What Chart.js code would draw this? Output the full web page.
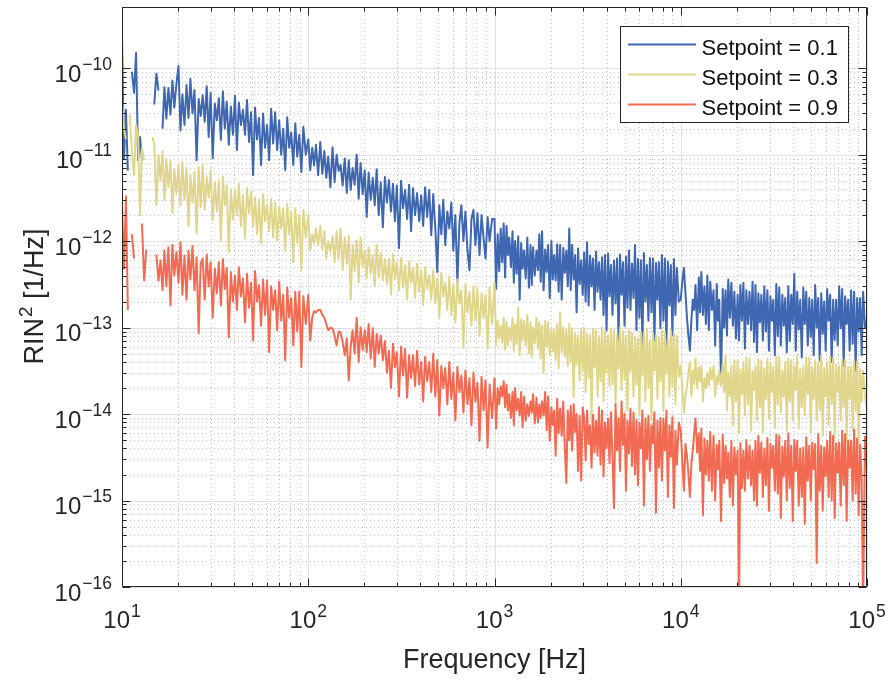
<!DOCTYPE html>
<html>
<head>
<meta charset="utf-8">
<script src="https://cdn.jsdelivr.net/npm/chart.js@4.4.1/dist/chart.umd.min.js"></script>
<style>
  body { margin: 0; background: #fff; }
  #wrap { width: 889px; height: 680px; }
</style>
</head>
<body>
<div id="wrap"><canvas id="myChart"></canvas></div>
<script>
// frequency axis [Hz]
const freq = [
  10,10.25,10.5,10.75,11,11.3,11.6,11.9,12.2,12.5,12.8,13.15,13.5,13.85,14.2,14.55,14.9,15.3,15.7,16.1,16.5,16.9,17.3,17.75,18.2,18.65,19.1,19.6,20.1,20.6,21.1,21.65,22.2,22.75,23.3,23.9,24.5,25.15,25.8,26.45,27.1,27.8,28.5,29.2,29.9,30.7,31.5,32.3,33.1,33.95,34.8,35.65,36.5,37.45,38.4,39.4,40.4,41.4,42.4,43.5,44.6,45.75,46.9,48.1,49.3,50.55,51.8,53.1,54.4,55.8,57.2,58.65,60.1,61.65,63.2,64.8,66.4,68.1,69.8,71.6,73.4,75.2,77.1,79,81,83.1,85.2,87.3,89.5,91.8,94.1,97,
  100,102.5,105,107.5,110,113,116,119,122,125,128,131.5,135,138.5,142,145.5,149,153,157,161,165,169,173,177.5,182,186.5,191,196,201,206,211,216.5,222,227.5,233,239,245,251.5,258,264.5,271,278,285,292,299,307,315,323,331,339.5,348,356.5,365,374.5,384,394,404,414,424,435,446,457.5,469,481,493,505.5,518,531,544,558,572,586.5,601,616.5,632,648,664,681,698,716,734,752,771,790,810,831,852,873,895,918,941,970,
  1000,1020,1040,1060,1080,1100,1120,1140,1160,1180,1200,1225,1250,1270,1290,1315,1340,1365,1390,1415,1440,1470,1500,1530,1560,1585,1610,1645,1680,1710,1740,1770,1800,1835,1870,1905,1940,1980,2020,2055,2090,2130,2170,2210,2250,2295,2340,2385,2430,2475,2520,2565,2610,2660,2710,2760,2810,2865,2920,2975,3030,3085,3140,3200,3260,3320,3380,3445,3510,3575,3640,3710,3780,3850,3920,3995,4070,4145,4220,4300,4380,4465,4550,4635,4720,4810,4900,4990,5080,5175,5270,5370,5470,5575,5680,5785,5890,6000,6110,6225,6340,6460,6580,6705,6830,6960,7090,7225,7360,7495,7630,7775,7920,8070,8220,8375,8530,8690,8850,9020,9190,9360,9530,9760,
  10000,10200,10400,10600,10800,11000,11200,11400,11600,11800,12000,12250,12500,12700,12900,13150,13400,13650,13900,14150,14400,14700,15000,15300,15600,15850,16100,16450,16800,17100,17400,17700,18000,18350,18700,19050,19400,19800,20200,20550,20900,21300,21700,22100,22500,22950,23400,23850,24300,24750,25200,25650,26100,26600,27100,27600,28100,28650,29200,29750,30300,30850,31400,32000,32600,33200,33800,34450,35100,35750,36400,37100,37800,38500,39200,39950,40700,41450,42200,43000,43800,44650,45500,46350,47200,48100,49000,49900,50800,51750,52700,53700,54700,55750,56800,57850,58900,60000,61100,62250,63400,64600,65800,67050,68300,69600,70900,72250,73600,74950,76300,77750,79200,80700,82200,83750,85300,86900,88500,90200,91900,93600,95300,97600,100000
];

// RIN^2 [1/Hz], setpoint 0.1
const rin01 = [
  2.3e-10,9e-12,3.3e-11,6.5e-12,null,9.1e-11,5.2e-11,1.5e-10,8.6e-12,1.6e-11,
  8.6e-12,null,null,null,null,null,3.8e-11,8.6e-11,5.5e-11,null,
  2.0e-11,6.0e-11,2.6e-11,5.9e-11,2.9e-11,7.2e-11,3.5e-11,6.6e-11,
  1.06e-10,1.9e-11,5.0e-11,2.2e-11, 6.4e-11,2.65e-11,7.5e-11,3.0e-11,
  5.6e-11,8.6e-12,4.4e-11,2.8e-11, 4.9e-11,2.4e-11,6.2e-11,1.6e-11,
  5.2e-11,9.1e-12,3.9e-11,2.5e-11, 4.5e-11,1.48e-11,5.4e-11,2.0e-11,
  4.1e-11,1.3e-11,3.6e-11,1.7e-11, 4.8e-11,1.13e-11,4.0e-11,2.2e-11,
  3.3e-11,1.7e-11,4.3e-11,1.4e-11, 3.1e-11,5.8e-12,3.5e-11,1.5e-11,
  2.65e-11,7.6e-12,3.0e-11,1.2e-11, 2.2e-11,8.6e-12,3.4e-11,1.35e-11,
  3.1e-11,1.13e-11,2.5e-11,1.0e-11, 2.0e-11,6.6e-12,2.7e-11,1.2e-11,
  1.8e-11,7.6e-12,2.3e-11,9.5e-12, 1.7e-11,6.3e-12,2.1e-11,1.0e-11,

  1.5e-11,6.6e-12,1.2e-11,7.5e-12, 1.3e-11,5.8e-12,1.4e-11,6.0e-12,
  1.1e-11,5.4e-12,9.5e-12,4.2e-12, 1.22e-11,4.8e-12,1.0e-11,6.5e-12,
  7.6e-12,4.4e-12,9.0e-12,3.6e-12, 8.6e-12,3.9e-12,7.0e-12,4.5e-12,
  1.0e-11,3.1e-12,8.0e-12,3.5e-12, 6.6e-12,1.9e-12,6.2e-12,3.0e-12,
  5.4e-12,2.6e-12,6.8e-12,2.0e-12, 4.8e-12,1.45e-12,5.5e-12,2.8e-12,
  5.1e-12,2.2e-12,4.6e-12,1.7e-12, 4.4e-12,8.3e-13,5.0e-12,2.4e-12,
  3.9e-12,1.8e-12,4.5e-12,1.3e-12, 4.1e-12,2.0e-12,3.6e-12,1.7e-12,
  3.4e-12,1.5e-12,4.2e-12,1.9e-12, 3.9e-12,1.17e-12,3.5e-12,1.4e-12,
  4.4e-13,2.6e-12,1.2e-12,3.0e-12,9.0e-13,2.2e-12,1.4e-12,2.8e-12,7.8e-13,2.0e-12,
  3.3e-13,1.6e-12,2.6e-12,1.0e-12,2.2e-12,7.8e-13,4.6e-13,1.8e-12,2.3e-12,9.0e-13,
  2.1e-12,6.9e-13,2.0e-12,1.1e-12,6.3e-13,1.9e-12,1.0e-12,1.8e-12,

  1.8e-12,2.8e-13,1.2e-12,4.5e-13, 1.4e-12,5.7e-13,1.6e-12,3.8e-13,
  1.5e-12,6.9e-13,1.1e-12,5.0e-13, 1.3e-12,3.3e-13,1.0e-12,4.2e-13,
  1.14e-12,2.1e-13,9.5e-13,4.8e-13, 7.8e-13,3.7e-13,1.1e-12,2.9e-13,
  9.0e-13,3.1e-13,8.5e-13,4.0e-13, 7.8e-13,4.6e-13,1.2e-12,3.4e-13,
  1.3e-12,2.7e-13,8.0e-13,4.4e-13, 9.0e-13,2.2e-13,1.0e-12,3.6e-13,
  6.9e-13,3.5e-13,9.2e-13,2.6e-13, 9.0e-13,2.1e-13,8.4e-13,4.3e-13,
  7.8e-13,3.0e-13,
  1.4e-12,2.7e-13,9.0e-13,3.6e-13, 6.9e-13,1.5e-13,8.2e-13,3.2e-13,
  6.0e-13,2.4e-13,7.4e-13,2.0e-13, 9.7e-13,1.8e-13,6.8e-13,3.0e-13,
  6.3e-13,1.6e-13,7.6e-13,2.6e-13, 5.7e-13,2.1e-13,6.5e-13,1.4e-13,
  6.9e-13,9.3e-14,7.2e-13,2.3e-13, 5.3e-13,1.4e-13,6.0e-13,1.9e-13,
  6.3e-13,7.1e-14,7.0e-13,2.4e-13, 5.7e-13,1.05e-13,6.6e-13,1.7e-13,
  7.8e-13,1.6e-13,5.5e-13,2.2e-13, 9.0e-13,9.3e-14,6.2e-13,1.3e-13,
  6.0e-13,6.2e-14,7.3e-13,2.0e-13, 5.3e-13,1.2e-13,6.4e-13,1.5e-13,
  6.3e-13,7.1e-14,5.6e-13,2.1e-13, 5.7e-13,9.8e-14,6.9e-13,1.2e-13,
  6.3e-13,6.2e-14,5.8e-13,1.8e-13, 5.3e-13,8.1e-14,6.2e-13,1.4e-13,
  4.9e-13,2.0e-13,

  2.1e-13,3.5e-13,4.9e-13,2.5e-13,1.3e-13,8.0e-14,5.4e-14,1.2e-13,2.1e-13,1.6e-13,
  3.1e-13,9.3e-14,3.8e-13,1.5e-13, 4.4e-13,1.4e-13,3.0e-13,1.1e-13,
  4.0e-13,9.3e-14,3.4e-13,1.6e-13, 2.7e-13,6.2e-14,3.2e-13,1.2e-13,
  2.1e-13,2.45e-14,2.8e-13,1.0e-13, 2.7e-13,8.1e-14,3.6e-13,1.3e-13,
  3.3e-13,1.05e-13,2.6e-13,7.5e-14, 2.4e-13,7.1e-14,3.1e-13,1.2e-13,
  3.3e-13,5.7e-14,2.7e-13,1.1e-13, 2.6e-13,9.3e-14,3.4e-13,6.8e-14,
  3.1e-13,5.2e-14,2.5e-13,1.15e-13, 2.4e-13,7.1e-14,3.0e-13,9.0e-14,
  2.7e-13,5.4e-14,2.3e-13,1.2e-13, 2.1e-13,4.8e-14,3.2e-13,8.0e-14,
  2.9e-13,6.2e-14,2.4e-13,1.05e-13, 2.2e-13,5.2e-14,3.0e-13,7.0e-14,
  2.4e-13,1.1e-13,
  4.2e-13,5.4e-14,2.6e-13,9.5e-14, 2.1e-13,4.5e-14,2.9e-13,1.1e-13,
  2.6e-13,6.2e-14,2.2e-13,7.8e-14, 2.1e-13,4.8e-14,3.1e-13,1.0e-13,
  2.2e-13,4.2e-14,2.5e-13,8.5e-14, 2.0e-13,5.4e-14,2.8e-13,1.2e-13,
  2.4e-13,4.0e-14,2.1e-13,7.2e-14, 2.1e-13,6.2e-14,3.0e-13,9.8e-14,
  2.8e-13,3.6e-14,2.3e-13,1.1e-13, 2.1e-13,5.4e-14,2.7e-13,6.5e-14,
  2.6e-13,3.2e-14,2.2e-13,9.0e-14, 2.2e-13,4.8e-14,2.6e-13,1.0e-13,
  1.2e-13
];

// RIN^2 [1/Hz], setpoint 0.3
const rin03 = [
  4.3e-11,2.0e-11,1.5e-11,null,2.9e-11,1.1e-11,5.8e-12,2.2e-11,1.7e-11,2.0e-12,
  1.2e-11,8.6e-12,null,null,null,1.6e-11,
  1.3e-11,2.6e-12,1.0e-11,5.0e-12, 1.1e-11,3.0e-12,9.0e-12,4.2e-12,
  8.6e-12,2.1e-12,6.8e-12,3.5e-12, 7.6e-12,2.6e-12,8.2e-12,3.0e-12,
  7.0e-12,1.5e-12,5.8e-12,2.8e-12, 6.3e-12,1.24e-12,7.2e-12,2.5e-12,
  7.6e-12,2.3e-12,5.5e-12,3.2e-12, 6.6e-12,1.75e-12,4.8e-12,2.2e-12,
  5.1e-12,1.02e-12,5.6e-12,2.6e-12, 4.4e-12,7.4e-13,4.0e-12,1.8e-12,
  3.9e-12,2.0e-12,4.6e-12,1.5e-12, 3.4e-12,1.08e-12,4.1e-12,2.1e-12,
  3.7e-12,1.5e-12,3.2e-12,1.2e-12, 3.0e-12,9.4e-13,3.5e-12,1.7e-12,
  2.6e-12,1.3e-12,3.1e-12,1.1e-12, 2.8e-12,1.02e-12,2.5e-12,1.4e-12,
  2.4e-12,7.8e-13,2.7e-12,1.2e-12, 2.2e-12,5.7e-13,2.4e-12,9.5e-13,
  2.0e-12,4.6e-13,2.3e-12,1.1e-12,

  2.0e-12,7.8e-13,1.2e-12,9.5e-13, 1.4e-12,9.0e-13,1.5e-12,8.0e-13,
  1.3e-12,6.3e-13,1.0e-12,7.5e-13, 1.14e-12,5.7e-13,1.3e-12,6.0e-13,
  1.4e-12,4.6e-13,1.1e-12,5.5e-13, 1.14e-12,2.1e-13,9.0e-13,4.5e-13,
  1.02e-12,3.3e-13,1.1e-12,5.0e-13, 7.8e-13,3.7e-13,8.5e-13,4.2e-13,
  6.9e-13,3.0e-13,9.0e-13,3.8e-13, 7.4e-13,3.5e-13,6.2e-13,3.2e-13,
  6.3e-13,2.4e-13,7.0e-13,3.6e-13, 5.7e-13,2.7e-13,6.4e-13,2.9e-13,
  5.3e-13,2.1e-13,5.8e-13,3.3e-13, 4.9e-13,2.2e-13,5.5e-13,2.6e-13,
  4.6e-13,1.8e-13,5.0e-13,2.8e-13, 4.0e-13,2.1e-13,4.6e-13,1.9e-13,
  3.7e-13,1.3e-13,4.3e-13,2.3e-13, 3.3e-13,1.6e-13,3.9e-13,1.4e-13,
  3.1e-13,1.15e-13,3.6e-13,1.9e-13, 2.7e-13,5.9e-14,3.2e-13,1.5e-13,
  2.6e-13,1.05e-13,3.0e-13,1.2e-13, 2.8e-13,8.1e-14,2.5e-13,1.3e-13,
  2.4e-13,5.7e-14,2.9e-13,1.1e-13,

  3.3e-13,6.2e-14,1.2e-13,7.5e-14, 1.05e-13,6.7e-14,1.3e-13,5.5e-14,
  1.15e-13,6.2e-14,1.0e-13,7.0e-14, 1.3e-13,5.4e-14,1.1e-13,6.5e-14,
  1.7e-13,4.8e-14,1.25e-13,7.2e-14, 1.2e-13,6.2e-14,1.4e-13,5.0e-14,
  1.15e-13,4.5e-14,1.0e-13,6.6e-14, 1.3e-13,5.7e-14,1.15e-13,4.4e-14,
  1.05e-13,3.0e-14,1.2e-13,6.0e-14, 1.15e-13,4.8e-14,9.5e-14,5.3e-14,
  9.3e-14,4.2e-14,1.1e-13,3.4e-14, 1.5e-13,5.2e-14,1.0e-13,4.6e-14,
  9.3e-14,3.6e-14,1.1e-13,4.0e-14, 9.8e-14,1.55e-14,8.6e-14,3.8e-14,
  8.1e-14,2.45e-14,9.5e-14,3.2e-14, 9.8e-14,1.8e-14,8.4e-14,2.6e-14,
  8.1e-14,8.0e-15,9.6e-14,3.5e-14, 9.3e-14,1.6e-14,8.0e-14,2.4e-14,
  1.0e-13,1.4e-14,9.0e-14,3.0e-14, 8.1e-14,2.1e-14,9.8e-14,2.2e-14,
  9.3e-14,1.3e-14,8.2e-14,3.3e-14, 1.0e-13,1.9e-14,9.1e-14,2.5e-14,
  8.1e-14,1.1e-14,9.4e-14,3.1e-14, 8.8e-14,1.6e-14,7.8e-14,2.2e-14,
  7.5e-14,9.6e-15,8.9e-14,2.8e-14, 8.6e-14,1.4e-14,9.6e-14,2.0e-14,
  7.1e-14,8.4e-15,8.5e-14,3.2e-14, 8.1e-14,1.5e-14,7.6e-14,2.4e-14,
  9.3e-14,1.1e-14,8.8e-14,2.9e-14, 7.5e-14,1.6e-14,9.2e-14,2.1e-14,
  8.8e-14,1.3e-14,8.0e-14,2.7e-14,

  3.6e-14,2.0e-14,1.04e-14,1.6e-14,2.1e-14,3.0e-14,
  4.0e-14,1.6e-14,3.2e-14,2.2e-14, 4.4e-14,2.0e-14,3.5e-14,2.4e-14,
  3.6e-14,1.4e-14,2.6e-14,2.0e-14, 3.0e-14,2.1e-14,3.4e-14,2.5e-14,
  3.6e-14,1.6e-14,2.8e-14,2.2e-14, 3.2e-14,2.1e-14,3.8e-14,1.8e-14,
  4.8e-14,1.1e-14,3.0e-14,1.6e-14, 3.6e-14,7.4e-15,4.2e-14,1.4e-14,
  4.2e-14,6.1e-15,3.3e-14,1.7e-14, 4.0e-14,9.6e-15,4.5e-14,1.3e-14,
  4.4e-14,6.4e-15,3.1e-14,1.9e-14, 3.6e-14,8.4e-15,4.3e-14,1.2e-14,
  4.2e-14,6.1e-15,3.4e-14,1.5e-14, 4.4e-14,8.9e-15,3.9e-14,1.8e-14,
  3.5e-14,6.8e-15,4.6e-14,1.3e-14, 4.5e-14,1.04e-14,3.2e-14,1.6e-14,
  4.0e-14,6.4e-15,4.4e-14,1.4e-14, 4.2e-14,8.4e-15,3.6e-14,1.9e-14,
  4.8e-14,6.8e-15,3.3e-14,1.2e-14, 3.6e-14,9.6e-15,4.5e-14,1.7e-14,
  4.5e-14,6.1e-15,3.5e-14,1.5e-14, 4.2e-14,8.4e-15,4.0e-14,1.1e-14,
  4.8e-14,5.6e-15,3.4e-14,1.6e-14, 4.0e-14,7.4e-15,4.6e-14,1.3e-14,
  4.4e-14,5.2e-15,3.7e-14,1.8e-14, 3.6e-14,8.4e-15,4.3e-14,1.2e-14,
  4.2e-14,4.9e-15,3.5e-14,1.5e-14, 3.5e-14,6.4e-15,4.1e-14,1.1e-14,
  4.0e-14,4.3e-15,3.3e-14,1.4e-14,
  3.2e-14,1.6e-14,
  1.1e-14
];

// RIN^2 [1/Hz], setpoint 0.9
const rin09 = [
  2.6e-12,4.8e-13,3.3e-12,1.6e-13,null,1.2e-12,6.3e-13,null,null,null,
  1.6e-12,3.5e-13,8.0e-13,null,null,null,null,7.0e-13,3.5e-13,6.0e-13,
  2.7e-13,7.8e-13,3.0e-13,8.5e-13, 1.8e-13,9.0e-13,4.0e-13,7.5e-13,
  3.3e-13,9.7e-13,2.4e-13,6.8e-13, 2.1e-13,7.8e-13,3.6e-13,8.8e-13,
  2.7e-13,6.5e-13,8.6e-14,5.5e-13,
  6.3e-13,2.1e-13,7.0e-13,3.0e-13, 5.7e-13,1.3e-13,4.8e-13,2.5e-13,
  5.7e-13,1.8e-13,6.2e-13,2.8e-13, 4.9e-13,7.7e-14,4.4e-13,2.0e-13,
  4.0e-13,1.6e-13,5.0e-13,2.3e-13, 3.7e-13,1.15e-13,4.2e-13,1.7e-13,
  3.3e-13,7.1e-14,4.5e-13,2.0e-13, 3.1e-13,1.05e-13,3.6e-13,1.4e-13,
  3.5e-13,5.2e-14,3.0e-13,1.6e-13, 2.7e-13,9.3e-14,3.4e-13,1.2e-13,
  2.4e-13,4.2e-14,2.9e-13,1.3e-13, 2.2e-13,6.2e-14,2.6e-13,9.0e-14,
  2.6e-13,3.5e-14,2.3e-13,1.1e-13,

  2.4e-13,7.1e-14,1.3e-13,1.55e-13,1.5e-13,1.6e-13,1.6e-13,1.4e-13,1.3e-13,1.1e-13,
  9.3e-14,1.0e-13,9.8e-14,8.0e-14,6.2e-14,9.0e-14,8.8e-14,6.8e-14,4.8e-14,7.5e-14,
  2.45e-14,6.0e-14,9.3e-14,5.0e-14,
  1.3e-13,4.0e-14,1.0e-13,5.5e-14, 9.3e-14,5.2e-14,1.1e-13,4.4e-14,
  9.8e-14,3.5e-14,8.5e-14,5.0e-14, 8.1e-14,4.2e-14,7.0e-14,3.0e-14,
  5.4e-14,2.0e-14,6.5e-14,3.5e-14, 5.2e-14,1.6e-14,6.0e-14,2.8e-14,
  5.7e-14,1.55e-14,4.8e-14,2.6e-14, 4.8e-14,2.1e-14,5.4e-14,2.2e-14,
  4.0e-14,1.4e-14,4.6e-14,2.4e-14, 4.0e-14,1.8e-14,5.0e-14,1.6e-14,
  4.2e-14,9.6e-15,3.6e-14,2.0e-14, 3.4e-14,1.3e-14,4.0e-14,1.5e-14,
  3.0e-14,8.4e-15,3.5e-14,1.8e-14, 2.8e-14,1.04e-14,3.2e-14,1.3e-14,
  2.6e-14,7.4e-15,3.0e-14,1.4e-14, 2.3e-14,4.9e-15,2.7e-14,1.1e-14,
  2.45e-14,4.1e-15,2.2e-14,9.0e-15,

  2.6e-14,6.8e-15,2.0e-14,1.3e-14, 2.1e-14,1.6e-14,2.4e-14,1.2e-14,
  2.2e-14,1.1e-14,1.7e-14,9.0e-15, 1.8e-14,7.4e-15,2.0e-14,1.1e-14,
  1.5e-14,9.6e-15,1.8e-14,7.0e-15, 1.6e-14,8.4e-15,1.3e-14,9.5e-15,
  1.4e-14,1.04e-14,1.7e-14,7.8e-15, 1.55e-14,8.0e-15,1.3e-14,9.0e-15,
  1.4e-14,9.6e-15,1.8e-14,6.5e-15, 1.6e-14,4.9e-15,1.2e-14,7.5e-15,
  1.1e-14,3.3e-15,1.5e-14,6.0e-15, 1.16e-14,5.6e-15,1.4e-14,4.2e-15,
  1.6e-15,1.1e-14,5.0e-15,1.25e-14, 3.8e-15,1.3e-14,6.2e-15,1.0e-14,
  2.2e-15,9.5e-15,1.7e-15,1.2e-14,
  8.9e-15,2.9e-15,1.1e-14,4.5e-15, 7.4e-15,2.4e-15,9.8e-15,3.6e-15,
  8.4e-15,3.3e-15,1.2e-14,2.6e-15, 1.1e-14,1.9e-15,8.0e-15,4.0e-15,
  8.9e-15,2.7e-15,1.05e-14,3.2e-15,
  8.2e-16,1.3e-14,3.8e-15,9.0e-15,
  2.2e-15,1.4e-14,4.4e-15,1.0e-14, 1.3e-15,8.4e-15,3.5e-15,1.15e-14,
  2.5e-15,1.04e-14,2.0e-15,8.6e-15, 1.5e-15,8.0e-15,4.0e-15,1.1e-14,
  8.7e-16,8.9e-15,3.0e-15,9.5e-15, 2.2e-15,7.4e-15,4.6e-15,1.05e-14,
  7.2e-16,8.4e-15,2.4e-15,9.0e-15, 1.7e-15,8.9e-15,3.8e-15,1.1e-14,
  1.1e-15,7.4e-15,3.2e-15,9.2e-15, 8.2e-16,6.4e-15,2.6e-15,8.0e-15,

  6.4e-15,2.8e-15,1.3e-15,4.5e-15,3.3e-15,2.0e-15,1.1e-15,2.6e-15,3.8e-15,6.0e-15,
  8.9e-15,3.6e-15,6.0e-15,2.2e-15, 6.8e-15,6.7e-16,5.2e-15,2.0e-15,
  4.9e-15,1.7e-15,6.2e-15,1.3e-15, 5.6e-15,1.0e-15,4.4e-15,2.3e-15,
  4.9e-15,5.8e-16,5.8e-15,1.6e-15, 4.3e-15,1.8e-15,3.6e-15,1.1e-15,
  4.9e-15,8.7e-16,4.1e-15,2.0e-15, 3.8e-15,5e-17,4.6e-15,1.4e-15,
  3.8e-15,1.3e-15,5.0e-15,1.8e-15, 4.3e-15,1.5e-15,3.8e-15,1.0e-15,
  4.9e-15,8.7e-16,5.6e-15,2.1e-15, 4.7e-15,1.1e-15,4.0e-15,1.5e-15,
  5.3e-15,7.6e-16,4.5e-15,2.4e-15, 4.3e-15,1.3e-15,5.8e-15,1.2e-15,
  5.6e-15,6.3e-16,4.2e-15,1.9e-15, 4.9e-15,1.0e-15,6.0e-15,1.4e-15,
  4.3e-15,5.8e-16,5.0e-15,2.2e-15, 4.9e-15,8.7e-16,4.0e-15,1.1e-15,
  4.1e-15,5.4e-16,5.4e-15,1.7e-15, 4.3e-15,1.0e-15,4.7e-15,2.3e-15,
  4.5e-15,1.9e-16,5.9e-15,1.3e-15, 4.3e-15,7.6e-16,4.1e-15,1.9e-15,
  4.9e-15,1.1e-15,6.2e-15,1.0e-15, 5.6e-15,6.3e-16,4.6e-15,2.1e-15,
  4.7e-15,8.7e-16,6.4e-15,1.5e-15, 5.9e-15,5.8e-16,4.9e-15,2.4e-15,
  4.9e-15,1.0e-15,6.6e-15,1.2e-15, 5.2e-15,6.7e-16,4.4e-15,1.8e-15,
  5e-17,5.5e-15,
  2.2e-15
];

const seriesLabels = ['Setpoint = 0.1', 'Setpoint = 0.3', 'Setpoint = 0.9'];
const seriesColors = ['#3f67b1', '#e0d68b', '#f26a52'];

// decade ticks
const xTicks = [1e1, 1e2, 1e3, 1e4, 1e5];
const yTicks = [1e-16, 1e-15, 1e-14, 1e-13, 1e-12, 1e-11, 1e-10];
const xLabel = 'Frequency [Hz]';

const FONT = '"Liberation Sans", Arial, Helvetica, sans-serif';
const AXIS_COLOR = '#262626';

function points(vals) {
  return freq.map((f, i) => ({ x: f, y: vals[i] }));
}

// 2..9 x 10^k between the decade ticks
function minorValues(ticks) {
  const out = [];
  for (let i = 0; i < ticks.length - 1; i++) {
    for (let m = 2; m <= 9; m++) out.push(ticks[i] * m);
  }
  return out;
}

function expText(v) {
  const e = Math.round(Math.log10(v));
  return e < 0 ? '\u2212' + Math.abs(e) : String(e);
}

const matlabAxes = {
  id: 'matlabAxes',
  beforeDatasetsDraw(chart) {
    const { ctx, chartArea: a, scales: { x, y } } = chart;
    ctx.save();
    ctx.lineWidth = 1;

    // minor grid (dotted)
    ctx.strokeStyle = '#bfbfbf';
    ctx.setLineDash([1, 3]);
    ctx.beginPath();
    minorValues(xTicks).forEach(v => {
      const px = Math.round(x.getPixelForValue(v)) + 0.5;
      ctx.moveTo(px, a.top); ctx.lineTo(px, a.bottom);
    });
    minorValues(yTicks).forEach(v => {
      const py = Math.round(y.getPixelForValue(v)) + 0.5;
      ctx.moveTo(a.left, py); ctx.lineTo(a.right, py);
    });
    ctx.stroke();

    // major grid
    ctx.setLineDash([]);
    ctx.strokeStyle = '#e1e1e1';
    ctx.beginPath();
    xTicks.forEach(v => {
      const px = Math.round(x.getPixelForValue(v)) + 0.5;
      ctx.moveTo(px, a.top); ctx.lineTo(px, a.bottom);
    });
    yTicks.forEach(v => {
      const py = Math.round(y.getPixelForValue(v)) + 0.5;
      if (py < a.top + 1) return;
      ctx.moveTo(a.left, py); ctx.lineTo(a.right, py);
    });
    ctx.stroke();
    ctx.restore();
  },
  afterDatasetsDraw(chart) {
    const { ctx, chartArea: a, scales: { x, y } } = chart;
    const L = a.left + 0.5, R = a.right - 0.5, T = a.top + 0.5, B = a.bottom - 0.5;
    ctx.save();

    // box + inward ticks on all four sides
    ctx.strokeStyle = AXIS_COLOR;
    ctx.lineWidth = 1;
    ctx.beginPath();
    ctx.rect(L, T, R - L, B - T);
    const tickX = (v, len) => {
      const px = Math.round(x.getPixelForValue(v)) + 0.5;
      ctx.moveTo(px, B); ctx.lineTo(px, B - len);
      ctx.moveTo(px, T); ctx.lineTo(px, T + len);
    };
    const tickY = (v, len) => {
      const py = Math.round(y.getPixelForValue(v)) + 0.5;
      if (py < a.top) return;
      ctx.moveTo(L, py); ctx.lineTo(L + len, py);
      ctx.moveTo(R, py); ctx.lineTo(R - len, py);
    };
    xTicks.forEach(v => tickX(v, 8));
    minorValues(xTicks).forEach(v => tickX(v, 4));
    yTicks.forEach(v => tickY(v, 8));
    minorValues(yTicks).forEach(v => tickY(v, 4));
    ctx.stroke();

    // tick labels 10^n
    const baseFont = '24px ' + FONT;
    const supFont = '17.5px ' + FONT;
    ctx.fillStyle = AXIS_COLOR;
    ctx.textBaseline = 'alphabetic';
    ctx.textAlign = 'left';
    ctx.font = baseFont;
    const wb = ctx.measureText('10').width;

    yTicks.forEach(v => {
      const py = y.getPixelForValue(v);
      const es = expText(v);
      ctx.font = supFont;
      const we = ctx.measureText(es).width;
      const right = a.left - 10;
      ctx.fillText(es, right - we, py + 1.5);
      ctx.font = baseFont;
      ctx.fillText('10', right - we - 1 - wb, py + 13.5);
    });

    xTicks.forEach(v => {
      const px = x.getPixelForValue(v);
      const es = expText(v);
      ctx.font = supFont;
      const we = ctx.measureText(es).width;
      const start = px - (wb + 1 + we) / 2;
      ctx.fillText(es, start + wb + 1, a.bottom + 30);
      ctx.font = baseFont;
      ctx.fillText('10', start, a.bottom + 41);
    });

    // axis titles
    ctx.font = '27px ' + FONT;
    ctx.textAlign = 'center';
    ctx.fillText(xLabel, (a.left + a.right) / 2, a.bottom + 81);

    ctx.save();
    ctx.translate(43, (a.top + a.bottom) / 2);
    ctx.rotate(-Math.PI / 2);
    ctx.textAlign = 'left';
    const t1 = 'RIN', t2 = '2', t3 = ' [1/Hz]';
    ctx.font = '27px ' + FONT;
    const w1 = ctx.measureText(t1).width, w3 = ctx.measureText(t3).width;
    ctx.font = '19px ' + FONT;
    const w2 = ctx.measureText(t2).width;
    const sx = -(w1 + w2 + w3) / 2;
    ctx.font = '27px ' + FONT;
    ctx.fillText(t1, sx, 0);
    ctx.font = '19px ' + FONT;
    ctx.fillText(t2, sx + w1 + 1, -11);
    ctx.font = '27px ' + FONT;
    ctx.fillText(t3, sx + w1 + w2 + 1, 0);
    ctx.restore();

    // legend box, top right inside the axes
    const bx = Math.round(a.right - 247) + 0.5, by = Math.round(a.top + 19) + 0.5;
    const bw = 228, bh = 96;
    ctx.fillStyle = '#fff';
    ctx.fillRect(bx, by, bw, bh);
    ctx.strokeStyle = AXIS_COLOR;
    ctx.strokeRect(bx, by, bw, bh);
    ctx.font = '22px ' + FONT;
    ctx.textAlign = 'left';
    chart.data.datasets.forEach((ds, i) => {
      const ry = by + 18 + i * 30;
      ctx.strokeStyle = ds.borderColor;
      ctx.lineWidth = 2;
      ctx.beginPath();
      ctx.moveTo(bx + 7.5, ry); ctx.lineTo(bx + 75.5, ry);
      ctx.stroke();
      ctx.fillStyle = '#111';
      ctx.fillText(ds.label, bx + 81, ry + 10.5);
    });
    ctx.restore();
  }
};

const myChart = new Chart(document.getElementById('myChart'), {
  type: 'line',
  data: {
    datasets: [rin01, rin03, rin09].map((vals, i) => ({
      label: seriesLabels[i],
      data: points(vals),
      borderColor: seriesColors[i],
      backgroundColor: seriesColors[i],
      borderWidth: 2,
      borderJoinStyle: 'round',
      pointRadius: 0,
      tension: 0,
      spanGaps: false,
      fill: false,
      order: 2 - i
    }))
  },
  options: {
    responsive: true,
    maintainAspectRatio: false,
    devicePixelRatio: 1,
    animation: false,
    events: [],
    layout: { padding: { left: 0, right: 22, top: 7, bottom: 0 } },
    plugins: {
      legend: { display: false },
      tooltip: { enabled: false }
    },
    scales: {
      x: {
        type: 'logarithmic',
        min: 10,
        max: 1e5,
        grid: { display: false },
        border: { display: false },
        ticks: { display: false },
        afterFit: s => { s.height = 93; }
      },
      y: {
        type: 'logarithmic',
        min: 1e-16,
        max: 5.1e-10,
        grid: { display: false },
        border: { display: false },
        ticks: { display: false },
        afterFit: s => { s.width = 122; }
      }
    }
  },
  plugins: [matlabAxes]
});
</script>
</body>
</html>
